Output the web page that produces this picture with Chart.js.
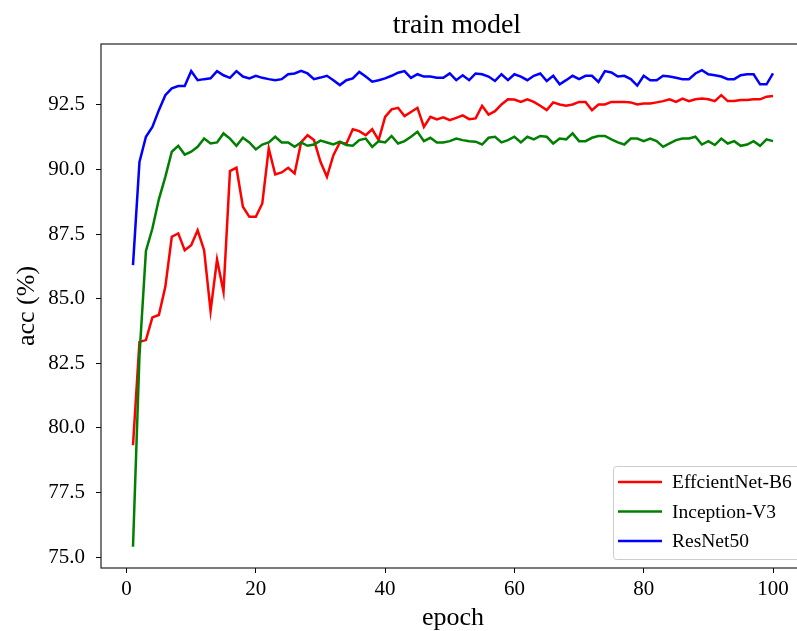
<!DOCTYPE html>
<html>
<head>
<meta charset="utf-8">
<script src="https://cdn.jsdelivr.net/npm/chart.js@4.4.1/dist/chart.umd.min.js"></script>
<style>
html, body { margin: 0; padding: 0; background: #fff; overflow: hidden; }
#wrap { width: 830px; height: 631px; }
</style>
</head>
<body>
<div id="wrap"><canvas id="accChart" width="830" height="631"></canvas></div>
<script>
var epochs = [
    1, 2, 3, 4, 5, 6, 7, 8, 9, 10, 11, 12, 13, 14, 15, 16, 17, 18, 19, 20,
    21, 22, 23, 24, 25, 26, 27, 28, 29, 30, 31, 32, 33, 34, 35, 36, 37, 38, 39, 40,
    41, 42, 43, 44, 45, 46, 47, 48, 49, 50, 51, 52, 53, 54, 55, 56, 57, 58, 59, 60,
    61, 62, 63, 64, 65, 66, 67, 68, 69, 70, 71, 72, 73, 74, 75, 76, 77, 78, 79, 80,
    81, 82, 83, 84, 85, 86, 87, 88, 89, 90, 91, 92, 93, 94, 95, 96, 97, 98, 99, 100
];

var seriesNames = ['EffcientNet-B6', 'Inception-V3', 'ResNet50'];

var effNetAcc = [
    79.33, 83.33, 83.40, 84.28, 84.37, 85.46, 87.40, 87.53, 86.88, 87.07,
    87.65, 86.88, 84.53, 86.52, 85.27, 89.94, 90.07, 88.56, 88.17, 88.17,
    88.69, 90.82, 89.81, 89.89, 90.07, 89.85, 91.05, 91.33, 91.14, 90.30,
    89.72, 90.56, 91.05, 91.00, 91.56, 91.49, 91.33, 91.56, 91.14, 92.04,
    92.33, 92.39, 92.07, 92.23, 92.39, 91.65, 92.04, 91.94, 92.02, 91.91,
    92.00, 92.10, 91.95, 91.98, 92.47, 92.13, 92.26, 92.52, 92.72, 92.71,
    92.62, 92.72, 92.62, 92.47, 92.30, 92.60, 92.52, 92.47, 92.52, 92.62,
    92.62, 92.30, 92.52, 92.52, 92.62, 92.62, 92.62, 92.60, 92.52, 92.56,
    92.56, 92.60, 92.65, 92.72, 92.62, 92.75, 92.65, 92.72, 92.75, 92.72,
    92.65, 92.88, 92.65, 92.65, 92.69, 92.69, 92.72, 92.72, 92.82, 92.85
];

var inceptionAcc = [
    75.40, 82.80, 86.85, 87.72, 88.85, 89.72, 90.69, 90.92, 90.58, 90.69,
    90.88, 91.20, 91.01, 91.05, 91.40, 91.20, 90.92, 91.23, 91.05, 90.78,
    90.97, 91.05, 91.27, 91.05, 91.05, 90.88, 91.05, 90.92, 90.97, 91.12,
    91.05, 90.97, 91.08, 90.95, 90.92, 91.14, 91.20, 90.88, 91.10, 91.05,
    91.30, 91.01, 91.10, 91.27, 91.46, 91.10, 91.23, 91.05, 91.05, 91.10,
    91.20, 91.14, 91.10, 91.08, 90.97, 91.23, 91.27, 91.05, 91.14, 91.27,
    91.05, 91.27, 91.17, 91.30, 91.27, 91.01, 91.20, 91.17, 91.40, 91.10,
    91.10, 91.23, 91.30, 91.30, 91.17, 91.05, 90.97, 91.20, 91.20, 91.10,
    91.20, 91.10, 90.88, 91.01, 91.14, 91.20, 91.20, 91.27, 90.97, 91.10,
    90.95, 91.20, 91.01, 91.10, 90.92, 90.97, 91.10, 90.92, 91.17, 91.10
];

var resnetAcc = [
    86.30, 90.30, 91.27, 91.65, 92.30, 92.88, 93.14, 93.23, 93.23, 93.81,
    93.46, 93.50, 93.53, 93.81, 93.65, 93.55, 93.81, 93.60, 93.53, 93.63,
    93.55, 93.50, 93.46, 93.50, 93.69, 93.72, 93.82, 93.72, 93.50, 93.56,
    93.63, 93.46, 93.27, 93.46, 93.53, 93.78, 93.60, 93.40, 93.46, 93.53,
    93.63, 93.75, 93.81, 93.55, 93.69, 93.60, 93.60, 93.55, 93.55, 93.72,
    93.46, 93.65, 93.46, 93.72, 93.69, 93.60, 93.43, 93.69, 93.46, 93.69,
    93.60, 93.46, 93.63, 93.72, 93.43, 93.63, 93.30, 93.46, 93.63, 93.50,
    93.63, 93.63, 93.39, 93.81, 93.76, 93.60, 93.63, 93.50, 93.25, 93.63,
    93.46, 93.46, 93.63, 93.60, 93.55, 93.50, 93.50, 93.72, 93.85, 93.69,
    93.65, 93.60, 93.50, 93.50, 93.65, 93.69, 93.69, 93.30, 93.30, 93.72
];

var lineColors = ['#ff0000', '#008000', '#0000ff'];

var serif = '"Liberation Serif", "Times New Roman", serif';
Chart.defaults.font.family = serif;
Chart.defaults.color = '#000';

function toPoints(vals) {
    return vals.map(function (v, i) { return {x: epochs[i], y: v}; });
}

// frame round the plot, title and the boxed legend in the lower right
var decorations = {
    id: 'decorations',
    afterDraw: function (chart) {
        var ctx = chart.ctx;
        var a = chart.chartArea;
        ctx.save();
        ctx.strokeStyle = '#222';
        ctx.lineWidth = 1.2;
        ctx.strokeRect(a.left, a.top, a.right - a.left, a.bottom - a.top);

        ctx.fillStyle = '#000';
        ctx.font = '28px ' + serif;
        ctx.textAlign = 'center';
        ctx.textBaseline = 'alphabetic';
        ctx.fillText('train model', (a.left + a.right) / 2 + 4, 33);

        var bx = 613.5, by = 466.5, bw = 205, bh = 93;
        ctx.fillStyle = 'rgba(255,255,255,0.85)';
        ctx.strokeStyle = '#cccccc';
        ctx.lineWidth = 1;
        ctx.beginPath();
        ctx.roundRect(bx, by, bw, bh, 3);
        ctx.fill();
        ctx.stroke();

        ctx.font = '19.5px ' + serif;
        ctx.textAlign = 'left';
        ctx.textBaseline = 'middle';
        chart.data.datasets.forEach(function (ds, i) {
            var y = 482 + i * 29.5;
            ctx.strokeStyle = ds.borderColor;
            ctx.lineWidth = 2.5;
            ctx.beginPath();
            ctx.moveTo(618, y);
            ctx.lineTo(662, y);
            ctx.stroke();
            ctx.fillStyle = '#000';
            ctx.fillText(ds.label, 672, y + 1);
        });
        ctx.restore();
    }
};

var accChart = new Chart(document.getElementById('accChart'), {
    type: 'line',
    data: {
        datasets: [
            {label: seriesNames[0], data: toPoints(effNetAcc), borderColor: lineColors[0], order: 3},
            {label: seriesNames[1], data: toPoints(inceptionAcc), borderColor: lineColors[1], order: 2},
            {label: seriesNames[2], data: toPoints(resnetAcc), borderColor: lineColors[2], order: 1}
        ]
    },
    options: {
        responsive: false,
        animation: false,
        layout: {padding: {left: 0, right: 25, top: 44, bottom: 0}},
        elements: {
            point: {radius: 0},
            line: {borderWidth: 2.5, tension: 0, fill: false}
        },
        plugins: {
            legend: {display: false},
            tooltip: {enabled: false}
        },
        scales: {
            x: {
                type: 'linear',
                min: -3.95,
                max: 104.95,
                afterFit: function (s) { s.height = 63; },
                border: {display: false},
                grid: {drawOnChartArea: false, drawTicks: true, tickLength: 5, color: '#000'},
                ticks: {stepSize: 20, includeBounds: false, padding: 4, font: {size: 21}, color: '#000'},
                title: {display: true, text: 'epoch', font: {size: 26}, padding: {top: 0, bottom: -3}, color: '#000'}
            },
            y: {
                min: 74.58,
                max: 94.86,
                afterFit: function (s) { s.width = 101; },
                border: {display: false},
                grid: {drawOnChartArea: false, drawTicks: true, tickLength: 5, color: '#000'},
                ticks: {
                    stepSize: 2.5, includeBounds: false, padding: 11, font: {size: 21}, color: '#000',
                    callback: function (v) { return v.toFixed(1); }
                },
                title: {display: true, text: 'acc (%)', font: {size: 26}, padding: {top: 12, bottom: 0}, color: '#000'}
            }
        }
    },
    plugins: [decorations]
});
</script>
</body>
</html>
